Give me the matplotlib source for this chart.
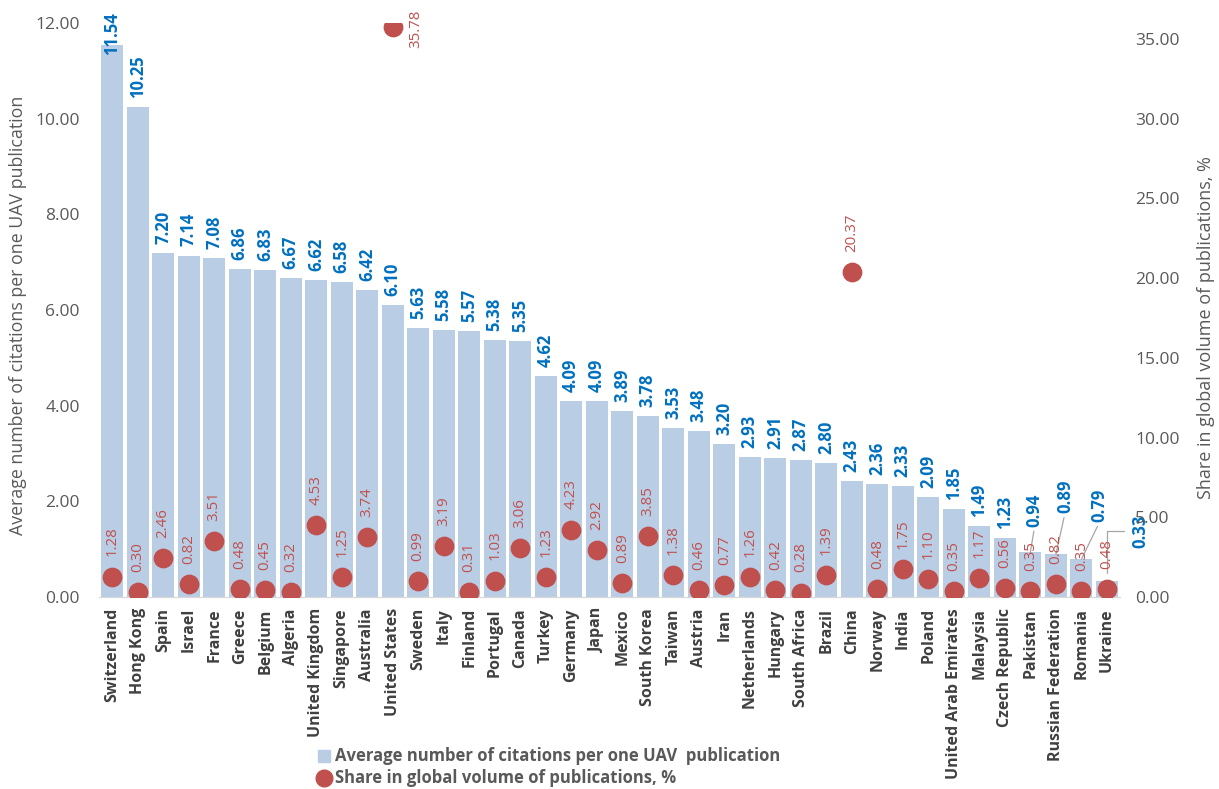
import numpy as np
import matplotlib.pyplot as plt
from matplotlib.lines import Line2D

plt.rcParams['font.family'] = ['Open Sans', 'DejaVu Sans']

countries = ["Switzerland", "Hong Kong", "Spain", "Israel", "France", "Greece", "Belgium",
             "Algeria", "United Kingdom", "Singapore", "Australia", "United States", "Sweden",
             "Italy", "Finland", "Portugal", "Canada", "Turkey", "Germany", "Japan", "Mexico",
             "South Korea", "Taiwan", "Austria", "Iran", "Netherlands", "Hungary", "South Africa",
             "Brazil", "China", "Norway", "India", "Poland", "United Arab Emirates", "Malaysia",
             "Czech Republic", "Pakistan", "Russian Federation", "Romania", "Ukraine"]

citations = [11.54, 10.25, 7.20, 7.14, 7.08, 6.86, 6.83, 6.67, 6.62, 6.58, 6.42, 6.10,
             5.63, 5.58, 5.57, 5.38, 5.35, 4.62, 4.09, 4.09, 3.89, 3.78, 3.53, 3.48, 3.20,
             2.93, 2.91, 2.87, 2.80, 2.43, 2.36, 2.33, 2.09, 1.85, 1.49, 1.23, 0.94, 0.89,
             0.79, 0.33]

share = [1.28, 0.30, 2.46, 0.82, 3.51, 0.48, 0.45, 0.32, 4.53, 1.25, 3.74, 35.78, 0.99,
         3.19, 0.31, 1.03, 3.06, 1.23, 4.23, 2.92, 0.89, 3.85, 1.38, 0.46, 0.77, 1.26,
         0.42, 0.28, 1.39, 20.37, 0.48, 1.75, 1.10, 0.35, 1.17, 0.56, 0.35, 0.82, 0.35, 0.48]

bar_col = '#B9CDE5'
dot_col = '#C0504D'
blue_txt = '#0070C0'
grey_txt = '#595959'
leader = '#A6A6A6'

# labels moved by hand in the original (offset in points)
blue_moved = {"Switzerland": (0, -7), "Pakistan": (3, 18), "Russian Federation": (6.5, 29.5),
              "Romania": (13, 26.6), "Ukraine": (24, 24)}
blue_leader = ["Pakistan", "Russian Federation", "Romania"]

fig = plt.figure(figsize=(12.19, 7.89), dpi=100)
ax = fig.add_axes([0.0815, 0.2433, 0.837, 0.7275])
ax2 = ax.twinx()

x = np.arange(len(countries))
ax.bar(x, citations, width=0.86, color=bar_col, zorder=1)
ax.set_xlim(-0.5, len(countries) - 0.5)
ax.set_ylim(0, 12)
ax.set_yticks(np.arange(0, 12.1, 2))
ax.set_yticklabels(["%.2f" % v for v in np.arange(0, 12.1, 2)])

ax2.scatter(x, share, s=175, color=dot_col, zorder=3)
ax2.set_ylim(0, 36)
ax2.set_yticks(np.arange(0, 36, 5))
ax2.set_yticklabels(["%.2f" % v for v in np.arange(0, 36, 5)])

for a in (ax, ax2):
    for s in ['top', 'left', 'right']:
        a.spines[s].set_visible(False)
    a.spines['bottom'].set_color('#D9D9D9')
    a.tick_params(length=0, colors=grey_txt, labelsize=12.5)
ax.tick_params(axis='y', pad=14)
ax2.tick_params(axis='y', pad=11)

ax.set_xticks(x)
ax.set_xticklabels(countries, rotation=90, fontsize=11.5, fontweight='bold', color='#404040')
ax.tick_params(axis='x', pad=8)

ax.set_ylabel("Average number of citations per one UAV publication", fontsize=12.8,
              color=grey_txt)
ax.yaxis.set_label_coords(-0.071, 0.49)
ax2.set_ylabel("Share in global volume of publications, %", fontsize=13, color=grey_txt)
ax2.yaxis.set_label_coords(1.076, 0.47)

for i, c in enumerate(countries):
    off = blue_moved.get(c, (0, 6.5))
    props = None
    if c in blue_leader:
        props = dict(arrowstyle='-', color=leader, lw=0.9, shrinkA=1, shrinkB=0, relpos=(0.5, 0))
    if c == "Ukraine":
        props = dict(arrowstyle='-', color=leader, lw=0.9, shrinkA=3, shrinkB=6, relpos=(0, 0.5),
                     connectionstyle="angle,angleA=180,angleB=90,rad=0")
    ax.annotate("%.2f" % citations[i], (x[i], citations[i]), xytext=off,
                textcoords='offset points', rotation=90, ha='center', va='bottom',
                fontsize=12, fontweight='bold', color=blue_txt, arrowprops=props,
                annotation_clip=False, zorder=5)

for i, c in enumerate(countries):
    if c == "United States":
        ax2.annotate("%.2f" % share[i], (x[i], share[i]), xytext=(16.5, -1.5),
                     textcoords='offset points', rotation=90, ha='center', va='center',
                     fontsize=10.8, color=dot_col, zorder=6)
    else:
        ax2.annotate("%.2f" % share[i], (x[i], share[i]), xytext=(0, 14.5),
                     textcoords='offset points', rotation=90, ha='center', va='bottom',
                     fontsize=10.8, color=dot_col, zorder=6)

handles = [Line2D([], [], marker='s', linestyle='none', color=bar_col, markersize=8),
           Line2D([], [], marker='o', linestyle='none', color=dot_col, markersize=12)]
labels = ["Average number of citations per one UAV  publication",
          "Share in global volume of publications, %"]
leg = fig.legend(handles, labels, loc='center left', bbox_to_anchor=(318 / 1219, 1 - 767 / 789),
                 frameon=False, handlelength=0.9, handletextpad=0.3, labelspacing=0.3,
                 borderaxespad=0, borderpad=0)
for t in leg.get_texts():
    t.set_fontweight('bold')
    t.set_fontsize(12)
    t.set_color(grey_txt)

fig.savefig("out.png", dpi=100)
